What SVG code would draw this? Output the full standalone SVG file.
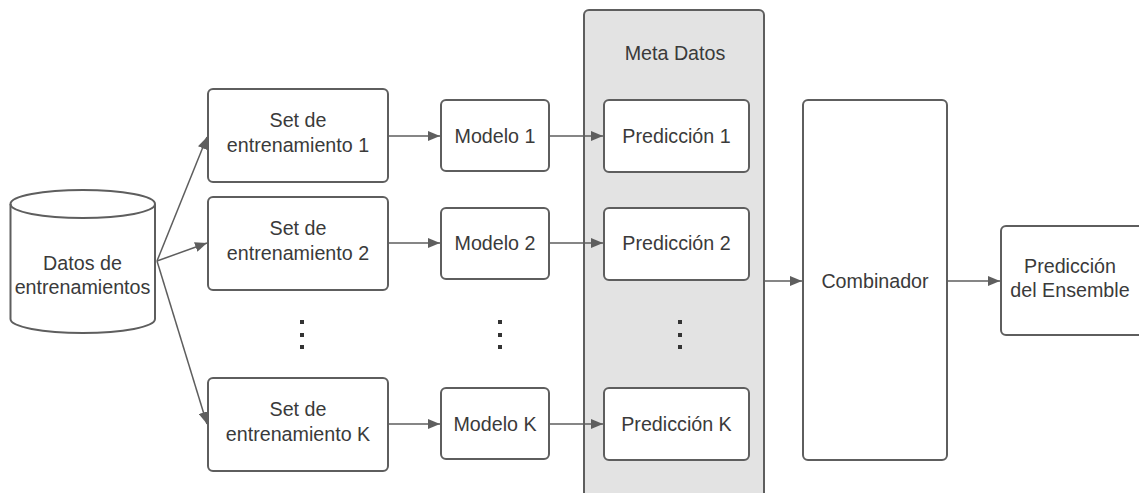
<svg xmlns="http://www.w3.org/2000/svg" width="1139" height="493" viewBox="0 0 1139 493">
<style>
.box{fill:#ffffff;stroke:#5e5e5e;stroke-width:2}
.panel{fill:#e3e3e3;stroke:#5e5e5e;stroke-width:2}
.t{font-family:"Liberation Sans",Arial,sans-serif;font-size:19.7px;fill:#3a3a3a;text-anchor:middle}
.c{fill:none;stroke:#5e5e5e;stroke-width:1.5}
.dot{fill:#333333}
</style>
<defs>
<marker id="ah" markerWidth="12" markerHeight="10" refX="12" refY="5" orient="auto" markerUnits="userSpaceOnUse">
<path d="M0,0 L12,5 L0,10 Z" fill="#5e5e5e"/>
</marker>
</defs>
<rect width="1139" height="493" fill="#ffffff"/>
<g id="meta-datos">
<rect class="panel" x="584" y="10" width="180" height="500" rx="5"/>
<text class="t" x="675" y="60">Meta Datos</text>
</g>
<g id="datos">
<path class="box" d="M10.5,204 L10.5,319 A72.25,14 0 0 0 155,319 L155,204 A72.25,14 0 0 0 10.5,204 Z"/>
<path class="c" style="stroke-width:2" d="M10.5,204 A72.25,14 0 0 0 155,204"/>
<text class="t" x="82.5" y="270">Datos de</text>
<text class="t" x="82.5" y="294">entrenamientos</text>
</g>
<g id="set1">
<rect class="box" x="208" y="89" width="180" height="93" rx="5"/>
<text class="t" x="298" y="127">Set de</text>
<text class="t" x="298" y="152">entrenamiento 1</text>
</g>
<g id="set2">
<rect class="box" x="208" y="197" width="180" height="93" rx="5"/>
<text class="t" x="298" y="235">Set de</text>
<text class="t" x="298" y="260">entrenamiento 2</text>
</g>
<g id="setK">
<rect class="box" x="208" y="378" width="180" height="93" rx="5"/>
<text class="t" x="298" y="416">Set de</text>
<text class="t" x="298" y="441">entrenamiento K</text>
</g>
<g id="modelo1">
<rect class="box" x="441" y="100" width="108" height="71" rx="5"/>
<text class="t" x="495" y="143">Modelo 1</text>
</g>
<g id="modelo2">
<rect class="box" x="441" y="208" width="108" height="71" rx="5"/>
<text class="t" x="495" y="250">Modelo 2</text>
</g>
<g id="modeloK">
<rect class="box" x="441" y="388" width="108" height="71" rx="5"/>
<text class="t" x="495" y="431">Modelo K</text>
</g>
<g id="pred1">
<rect class="box" x="604" y="100" width="145" height="72" rx="5"/>
<text class="t" x="676.5" y="143">Predicción 1</text>
</g>
<g id="pred2">
<rect class="box" x="604" y="208" width="145" height="72" rx="5"/>
<text class="t" x="676.5" y="250">Predicción 2</text>
</g>
<g id="predK">
<rect class="box" x="604" y="388" width="145" height="72" rx="5"/>
<text class="t" x="676.5" y="431">Predicción K</text>
</g>
<g id="combinador">
<rect class="box" x="803" y="100" width="144" height="360" rx="5"/>
<text class="t" x="875" y="288">Combinador</text>
</g>
<g id="ensemble">
<rect class="box" x="1001" y="226" width="150" height="109" rx="5"/>
<text class="t" x="1070" y="273">Predicción</text>
<text class="t" x="1070" y="297">del Ensemble</text>
</g>
<g id="ellipsis">
<rect class="dot" x="300" y="320" width="4" height="4"/>
<rect class="dot" x="300" y="333" width="4" height="4"/>
<rect class="dot" x="300" y="345" width="4" height="4"/>
<rect class="dot" x="498" y="320" width="4" height="4"/>
<rect class="dot" x="498" y="333" width="4" height="4"/>
<rect class="dot" x="498" y="345" width="4" height="4"/>
<rect class="dot" x="678" y="320" width="4" height="4"/>
<rect class="dot" x="678" y="333" width="4" height="4"/>
<rect class="dot" x="678" y="345" width="4" height="4"/>
</g>
<g id="connectors">
<line class="c" x1="157" y1="261" x2="207" y2="137" marker-end="url(#ah)"/>
<line class="c" x1="157" y1="261" x2="207" y2="243" marker-end="url(#ah)"/>
<line class="c" x1="157" y1="261" x2="207" y2="424" marker-end="url(#ah)"/>
<line class="c" x1="388" y1="136" x2="440" y2="136" marker-end="url(#ah)"/>
<line class="c" x1="388" y1="243" x2="440" y2="243" marker-end="url(#ah)"/>
<line class="c" x1="388" y1="424" x2="440" y2="424" marker-end="url(#ah)"/>
<line class="c" x1="549" y1="136" x2="603" y2="136" marker-end="url(#ah)"/>
<line class="c" x1="549" y1="243" x2="603" y2="243" marker-end="url(#ah)"/>
<line class="c" x1="549" y1="424" x2="603" y2="424" marker-end="url(#ah)"/>
<line class="c" x1="765" y1="281" x2="802" y2="281" marker-end="url(#ah)"/>
<line class="c" x1="947" y1="281" x2="1000" y2="281" marker-end="url(#ah)"/>
</g>
</svg>
